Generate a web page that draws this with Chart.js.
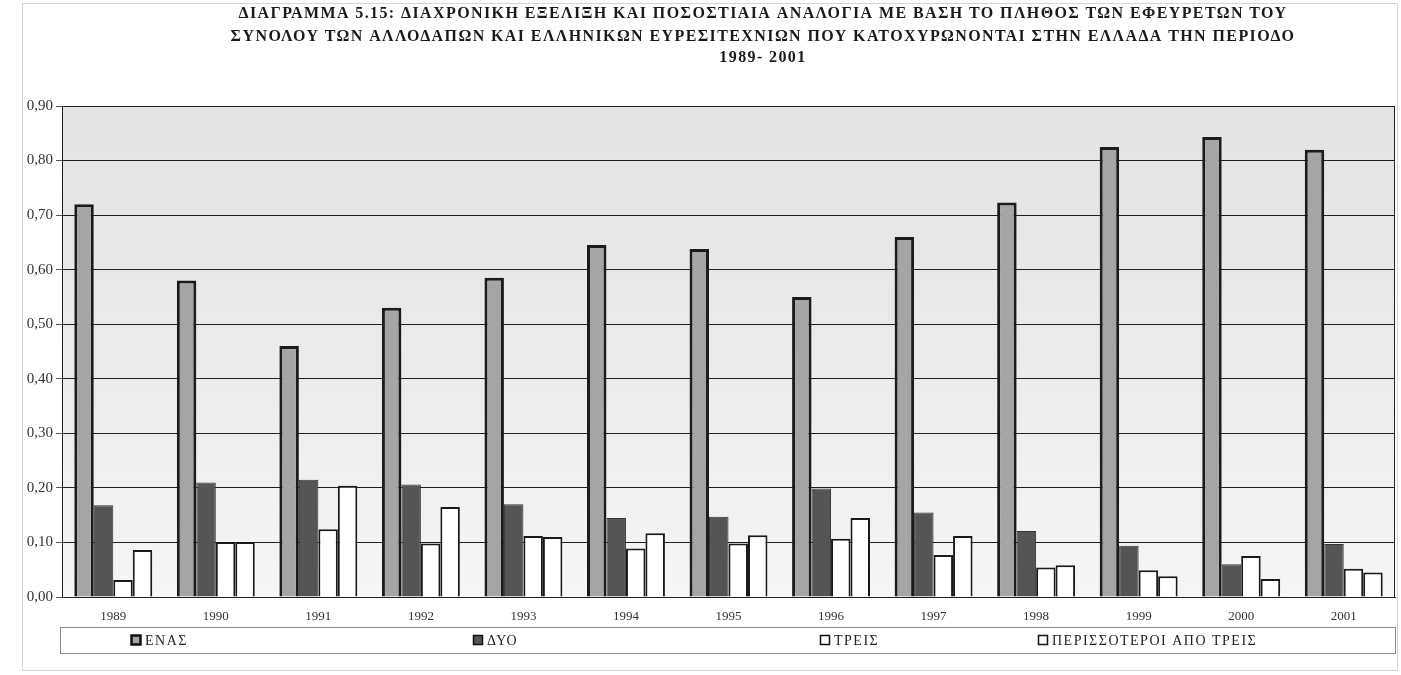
<!DOCTYPE html>
<html>
<head>
<meta charset="utf-8">
<script src="https://cdn.jsdelivr.net/npm/chart.js@4.4.1/dist/chart.umd.min.js"></script>
<style>
  html, body { margin: 0; padding: 0; background: #fff; }
  #wrap { width: 1401px; height: 675px; }
</style>
</head>
<body>
<div id="wrap"><canvas id="patentChart" width="1401" height="675"></canvas></div>
<script>
// values
const years = ['1989', '1990', '1991', '1992', '1993', '1994', '1995', '1996', '1997', '1998', '1999', '2000', '2001'];
const enas = [0.72, 0.58, 0.46, 0.53, 0.585, 0.645, 0.638, 0.55, 0.66, 0.723, 0.825, 0.843, 0.82];
const dyo = [0.168, 0.21, 0.215, 0.206, 0.17, 0.145, 0.147, 0.199, 0.155, 0.121, 0.094, 0.06, 0.097];
const treis = [0.031, 0.101, 0.124, 0.098, 0.112, 0.089, 0.098, 0.107, 0.077, 0.054, 0.049, 0.075, 0.052];
const perissoteroi = [0.086, 0.101, 0.204, 0.165, 0.11, 0.117, 0.113, 0.145, 0.112, 0.058, 0.038, 0.033, 0.045];
const seriesNames = ['ΕΝΑΣ', 'ΔΥΟ', 'ΤΡΕΙΣ', 'ΠΕΡΙΣΣΟΤΕΡΟΙ ΑΠΟ ΤΡΕΙΣ'];
const yTickLabels = ['0,00', '0,10', '0,20', '0,30', '0,40', '0,50', '0,60', '0,70', '0,80', '0,90'];
const titleLines = [
  'ΔΙΑΓΡΑΜΜΑ 5.15: ΔΙΑΧΡΟΝΙΚΗ ΕΞΕΛΙΞΗ ΚΑΙ ΠΟΣΟΣΤΙΑΙΑ ΑΝΑΛΟΓΙΑ ΜΕ ΒΑΣΗ ΤΟ ΠΛΗΘΟΣ ΤΩΝ ΕΦΕΥΡΕΤΩΝ ΤΟΥ',
  'ΣΥΝΟΛΟΥ ΤΩΝ ΑΛΛΟΔΑΠΩΝ ΚΑΙ ΕΛΛΗΝΙΚΩΝ ΕΥΡΕΣΙΤΕΧΝΙΩΝ ΠΟΥ ΚΑΤΟΧΥΡΩΝΟΝΤΑΙ ΣΤΗΝ ΕΛΛΑΔΑ ΤΗΝ ΠΕΡΙΟΔΟ',
  '1989- 2001'
];

const serif = '"Liberation Serif", "DejaVu Serif", serif';

// page frame + grey plot background
const backdrop = {
  id: 'backdrop',
  beforeDraw(chart) {
    const { ctx, chartArea: a } = chart;
    ctx.save();
    ctx.fillStyle = '#fff';
    ctx.fillRect(0, 0, chart.width, chart.height);
    ctx.strokeStyle = '#d4d4d4';
    ctx.lineWidth = 1;
    ctx.strokeRect(22.5, 3.5, chart.width - 26, chart.height - 8);
    const g = ctx.createLinearGradient(0, a.top, 0, a.bottom);
    g.addColorStop(0, '#e3e3e3');
    g.addColorStop(0.6, '#ececec');
    g.addColorStop(1, '#f6f6f6');
    ctx.fillStyle = g;
    ctx.fillRect(a.left, a.top, a.right - a.left, a.bottom - a.top);
    ctx.restore();
  },
  afterDraw(chart) {
    const { ctx, chartArea: a } = chart;
    ctx.save();
    ctx.strokeStyle = '#222';
    ctx.lineWidth = 1;
    ctx.strokeRect(a.left + 0.5, a.top + 0.5, a.right - a.left - 1, a.bottom - a.top);
    ctx.restore();
  }
};

// three line title, centred a bit right of the page centre like the scan
const titleText = {
  id: 'titleText',
  afterDraw(chart) {
    const ctx = chart.ctx;
    ctx.save();
    ctx.fillStyle = '#1a1a1a';
    ctx.font = 'bold 16px ' + serif;
    ctx.letterSpacing = '1.4px';
    ctx.textAlign = 'center';
    ctx.textBaseline = 'middle';
    const ys = [14, 37, 58];
    titleLines.forEach((t, i) => ctx.fillText(t, 763, ys[i]));
    ctx.restore();
  }
};

// legend strip under the axis, Excel style
const legendStrip = {
  id: 'legendStrip',
  afterDraw(chart) {
    const ctx = chart.ctx;
    const a = chart.chartArea;
    const top = 627, h = 26, cy = top + h / 2;
    const xs = [131, 473, 820, 1038];
    ctx.save();
    ctx.strokeStyle = '#8a8a8a';
    ctx.lineWidth = 1;
    ctx.strokeRect(a.left - 2 + 0.5, top + 0.5, a.right - a.left + 2, h);
    ctx.font = '14px ' + serif;
    ctx.letterSpacing = '1.5px';
    ctx.textBaseline = 'middle';
    chart.data.datasets.forEach((ds, i) => {
      const x = xs[i];
      ctx.fillStyle = ds.backgroundColor;
      ctx.fillRect(x, cy - 5, 10, 10);
      ctx.strokeStyle = '#111';
      ctx.lineWidth = i === 0 ? 2.5 : 1.5;
      ctx.strokeRect(x + 0.5, cy - 4.5, 9, 9);
      ctx.fillStyle = '#222';
      ctx.fillText(ds.label, x + 14, cy + 1);
    });
    ctx.restore();
  }
};

new Chart(document.getElementById('patentChart'), {
  type: 'bar',
  data: {
    labels: years,
    datasets: [
      { label: seriesNames[0], data: enas, backgroundColor: '#a5a5a5', borderColor: '#1c1c1c', borderWidth: 3 },
      { label: seriesNames[1], data: dyo, backgroundColor: '#555555', borderColor: '#333333', borderWidth: 1 },
      { label: seriesNames[2], data: treis, backgroundColor: '#ffffff', borderColor: '#1a1a1a', borderWidth: 2 },
      { label: seriesNames[3], data: perissoteroi, backgroundColor: '#ffffff', borderColor: '#1a1a1a', borderWidth: 2 }
    ]
  },
  options: {
    responsive: false,
    animation: false,
    categoryPercentage: 0.76,
    barPercentage: 1.0,
    layout: { padding: { top: 106, right: 6, bottom: 52, left: 0 } },
    plugins: {
      legend: { display: false },
      title: { display: false },
      tooltip: { enabled: false }
    },
    scales: {
      x: {
        grid: { display: false, drawTicks: false },
        border: { display: true, color: '#222', width: 1 },
        ticks: { color: '#333', font: { family: serif, size: 13 }, padding: 12, maxRotation: 0 },
        afterFit(scale) { scale.height = 26; }
      },
      y: {
        min: 0,
        max: 0.9,
        grid: { color: '#1f1f1f', lineWidth: 1, drawTicks: true, tickLength: 6, tickColor: '#555' },
        border: { display: true, color: '#222', width: 1 },
        ticks: {
          stepSize: 0.1,
          color: '#333',
          font: { family: serif, size: 15 },
          padding: 3,
          callback: (v, i) => yTickLabels[i]
        },
        afterFit(scale) { scale.width = 62; }
      }
    }
  },
  plugins: [backdrop, titleText, legendStrip]
});
</script>
</body>
</html>
